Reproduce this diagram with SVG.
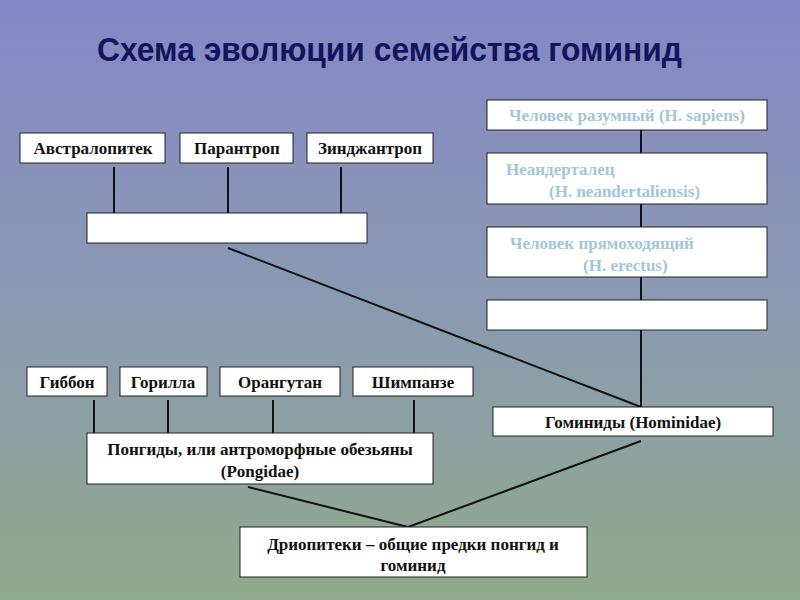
<svg xmlns="http://www.w3.org/2000/svg" width="800" height="600" viewBox="0 0 800 600">
<defs>
<linearGradient id="bg" x1="0" y1="0" x2="0" y2="1">
<stop offset="0" stop-color="#8488c6"/>
<stop offset="0.5" stop-color="#8a9ab2"/>
<stop offset="1" stop-color="#90aa8c"/>
</linearGradient>
</defs>
<style>
.box{fill:#fff;stroke:#222;stroke-width:1}
.t{font-family:"Liberation Serif","Times New Roman",serif;font-weight:bold;font-size:17px;fill:#111;text-anchor:middle}
.lb{fill:#a2c6dc;text-anchor:start}
.c{stroke:#111;stroke-width:2;fill:none}
.title{font-family:"Liberation Sans",Arial,sans-serif;font-weight:bold;font-size:33px;fill:#14145e}
</style>
<rect width="800" height="600" fill="url(#bg)"/>
<text class="title" x="97" y="61" textLength="585" lengthAdjust="spacingAndGlyphs">Схема эволюции семейства гоминид</text>

<g id="connectors">
<line class="c" x1="641" y1="130" x2="641" y2="153"/>
<line class="c" x1="641" y1="204" x2="641" y2="227"/>
<line class="c" x1="641" y1="277" x2="641" y2="300"/>
<line class="c" x1="641" y1="330" x2="641" y2="407"/>
<line class="c" x1="114" y1="167" x2="114" y2="213"/>
<line class="c" x1="228" y1="167" x2="228" y2="213"/>
<line class="c" x1="341" y1="167" x2="341" y2="213"/>
<line class="c" x1="228" y1="248" x2="641" y2="407"/>
<line class="c" x1="94" y1="400" x2="94" y2="433"/>
<line class="c" x1="168" y1="400" x2="168" y2="433"/>
<line class="c" x1="273" y1="400" x2="273" y2="433"/>
<line class="c" x1="414" y1="400" x2="414" y2="433"/>
<line class="c" x1="248" y1="487" x2="408" y2="527"/>
<line class="c" x1="641" y1="441" x2="408" y2="527"/>
</g>

<g id="sapiens"><rect class="box" x="487" y="100" width="280" height="30"/><text class="t" x="627" y="121" style="fill:#a2c6dc">Человек разумный (H. sapiens)</text></g>
<g id="neander"><rect class="box" x="487" y="153" width="280" height="51"/><text class="t lb" x="506" y="175">Неандерталец</text><text class="t lb" x="549" y="197">(H. neandertaliensis)</text></g>
<g id="erectus"><rect class="box" x="487" y="227" width="280" height="50"/><text class="t lb" x="510" y="249">Человек прямоходящий</text><text class="t lb" x="583" y="271">(H. erectus)</text></g>
<g id="empty2"><rect class="box" x="487" y="300" width="280" height="30"/></g>
<g id="hominidae"><rect class="box" x="493" y="407" width="280" height="29"/><text class="t" x="633" y="428">Гоминиды (Hominidae)</text></g>

<g id="austr"><rect class="box" x="20" y="133" width="145" height="30"/><text class="t" x="93" y="154">Австралопитек</text></g>
<g id="paran"><rect class="box" x="180" y="133" width="113" height="30"/><text class="t" x="237" y="154">Парантроп</text></g>
<g id="zinj"><rect class="box" x="307" y="133" width="126" height="30"/><text class="t" x="370" y="154">Зинджантроп</text></g>
<g id="empty1"><rect class="box" x="87" y="213" width="280" height="30"/></g>

<g id="gibbon"><rect class="box" x="27" y="367" width="80" height="29"/><text class="t" x="67" y="388">Гиббон</text></g>
<g id="gorilla"><rect class="box" x="120" y="367" width="87" height="29"/><text class="t" x="163" y="388">Горилла</text></g>
<g id="orang"><rect class="box" x="220" y="367" width="120" height="29"/><text class="t" x="280" y="388">Орангутан</text></g>
<g id="chimp"><rect class="box" x="353" y="367" width="120" height="29"/><text class="t" x="413" y="388">Шимпанзе</text></g>
<g id="pongidae"><rect class="box" x="87" y="433" width="346" height="51"/><text class="t" x="260" y="455">Понгиды, или антроморфные обезьяны</text><text class="t" x="260" y="477">(Pongidae)</text></g>

<g id="dryo"><rect class="box" x="240" y="527" width="347" height="50"/><text class="t" x="413" y="550">Дриопитеки – общие предки понгид и</text><text class="t" x="413" y="571">гоминид</text></g>
</svg>
